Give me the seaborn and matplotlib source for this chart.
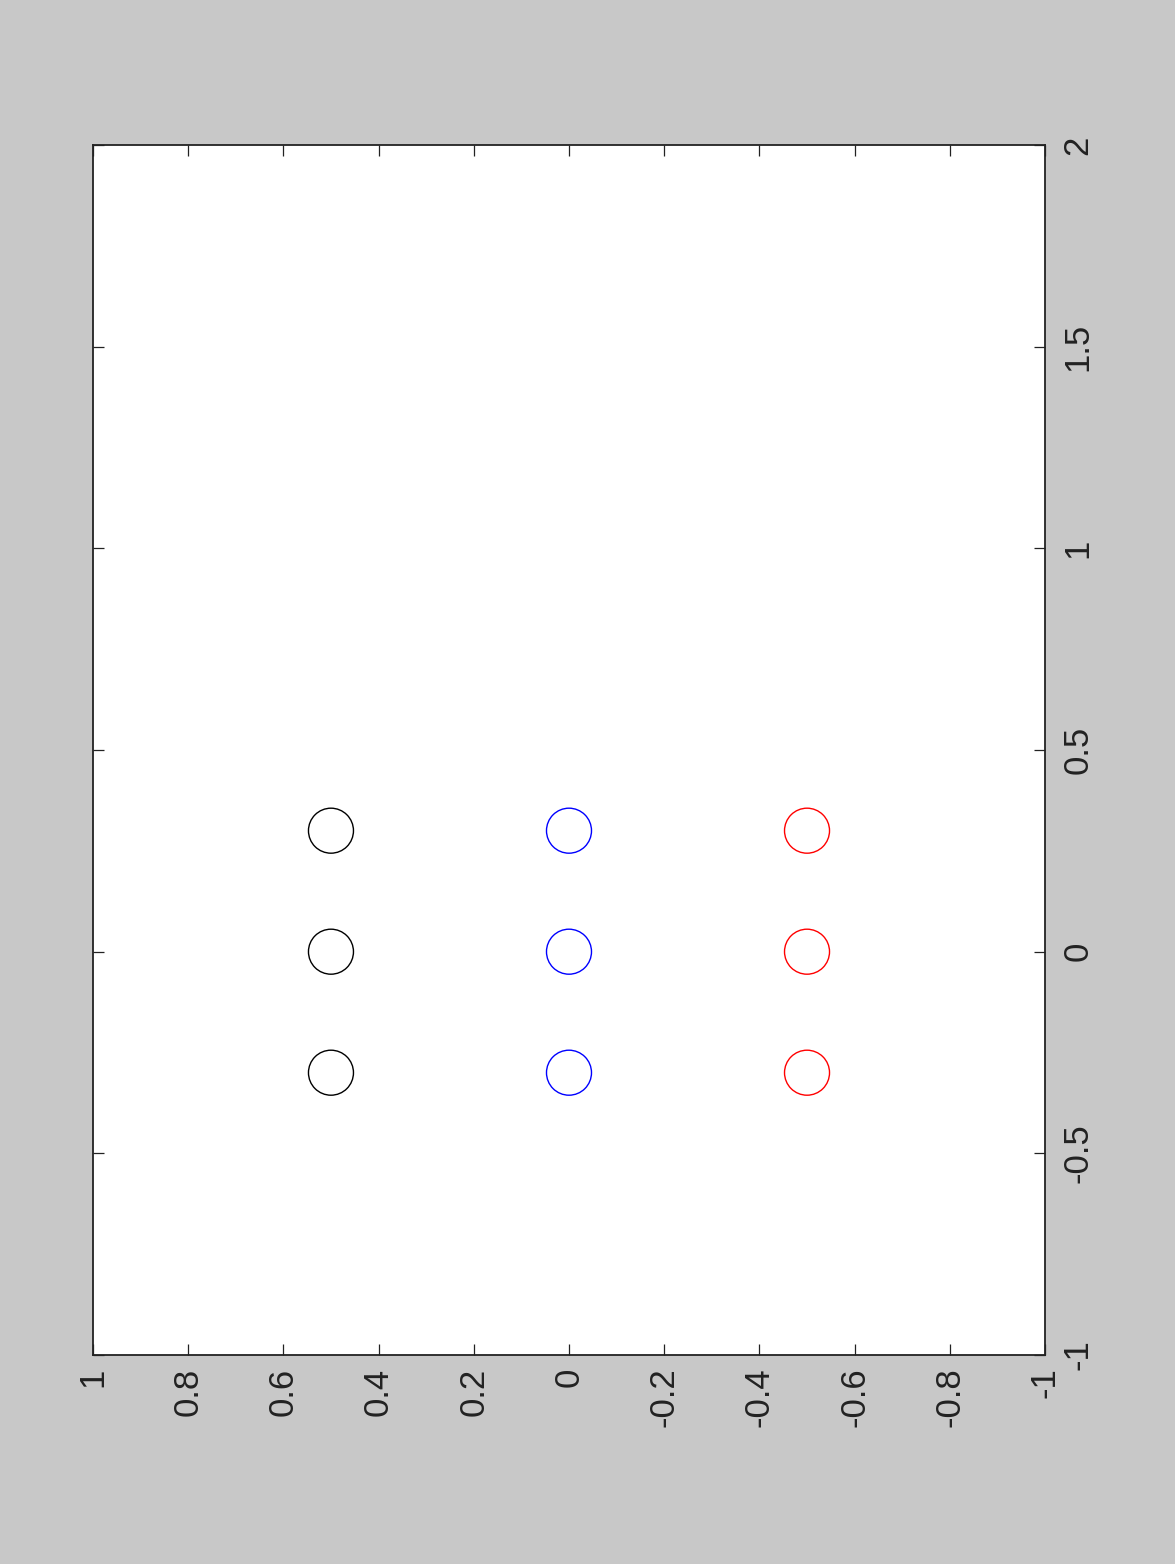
import numpy as np
import pandas as pd
import seaborn as sns
import matplotlib.pyplot as plt

# data (figure is shown rotated: horizontal axis = y values, vertical axis = x values)
rows_y = [0.5, 0.0, -0.5]          # one group per colour
cols_x = [-0.3, 0.0, 0.3]
group_colors = ["black", "blue", "red"]

h_ticks = [1, 0.8, 0.6, 0.4, 0.2, 0, -0.2, -0.4, -0.6, -0.8, -1]
h_labels = ["1", "0.8", "0.6", "0.4", "0.2", "0", "-0.2", "-0.4", "-0.6", "-0.8", "-1"]
v_ticks = [-1, -0.5, 0, 0.5, 1, 1.5, 2]
v_labels = ["-1", "-0.5", "0", "0.5", "1", "1.5", "2"]

sns.set_style("white")
plt.rcParams["font.family"] = ["Liberation Sans", "DejaVu Sans"]

fig = plt.figure(figsize=(11.75, 15.64), dpi=100, facecolor="#c8c8c8")
ax = fig.add_axes([0.0791, 0.1336, 0.8103, 0.7737])
ax.set_facecolor("white")

for yv, c in zip(rows_y, group_colors):
    df = pd.DataFrame({"h": [yv] * len(cols_x), "v": cols_x})
    sns.scatterplot(data=df, x="h", y="v", ax=ax, s=1050, marker="o",
                    facecolors="none", edgecolor=c, linewidth=1.0, legend=False)

ax.set_xlim(1, -1)
ax.set_ylim(-1, 2)
ax.set_xticks(h_ticks)
ax.set_xticklabels(h_labels, rotation=90)
ax.set_yticks(v_ticks)
ax.set_yticklabels(v_labels, rotation=90, va="center")
ax.set_xlabel("")
ax.set_ylabel("")

ax.tick_params(axis="both", direction="in", length=8, width=0.9, color="#222222",
               labelsize=25, labelcolor="#222222")
ax.tick_params(axis="x", top=True, bottom=True, pad=9)
ax.tick_params(axis="y", left=True, right=True, labelleft=False, labelright=True, pad=12)

for sp in ax.spines.values():
    sp.set_visible(True)
    sp.set_color("#222222")
    sp.set_linewidth(1.3)

plt.savefig("out.png", dpi=100, facecolor=fig.get_facecolor())
